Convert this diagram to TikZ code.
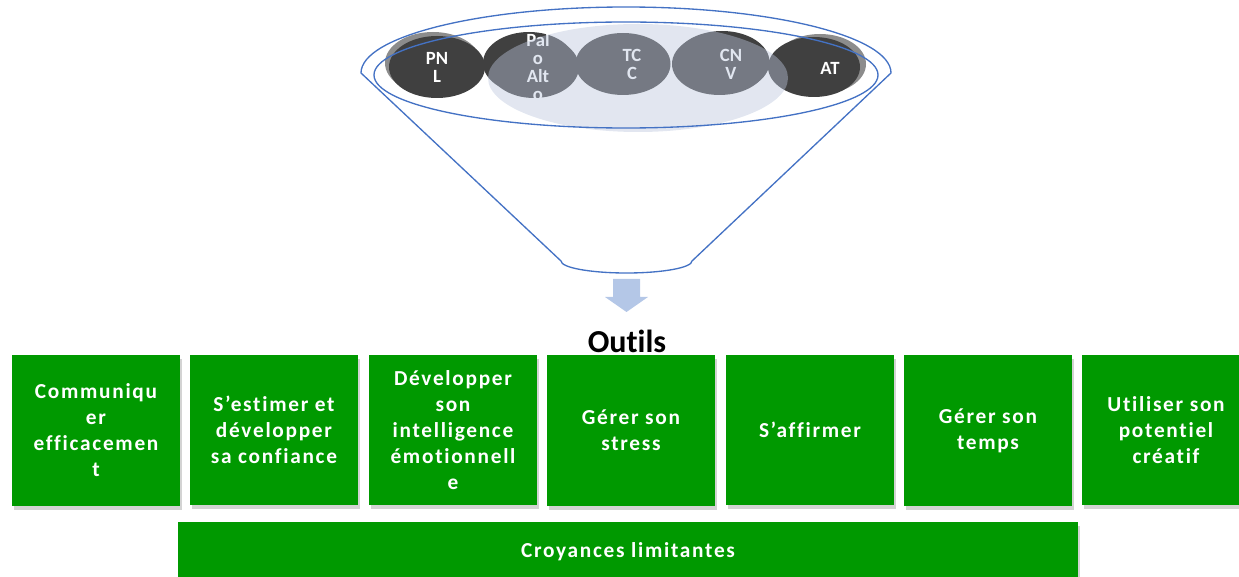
\documentclass[tikz,border=0pt]{standalone}
\usepackage{fontspec}
\setmainfont[Ligatures=NoCommon]{Carlito}
\newfontfamily\spacedfont[LetterSpace=8,Ligatures=NoCommon]{Carlito}
\usetikzlibrary{shadows}

\definecolor{funnelblue}{RGB}{68,114,196}
\definecolor{toolgreen}{RGB}{0,153,0}
\definecolor{darkdisc}{RGB}{64,64,64}
\definecolor{shadegrey}{RGB}{140,140,140}
\definecolor{veilblue}{RGB}{187,198,221}
\definecolor{arrowblue}{RGB}{180,199,231}

\tikzset{every picture/.style={line width=0.75pt}}
\tikzset{
  disclabel/.style={inner sep=0pt, text=white, align=center,
    font=\bfseries\fontsize{14}{13.5}\selectfont},
  toolbox/.style={rectangle, fill=toolgreen, minimum width=126pt, minimum height=113pt,
    inner sep=0pt, text=white, align=center,
    font=\spacedfont\bfseries\fontsize{16}{19.5}\selectfont,
    drop shadow={shadow xshift=1.5pt, shadow yshift=-3pt, opacity=0.35}},
}

\begin{document}
\begin{tikzpicture}[x=0.75pt,y=0.75pt,yscale=-1,xscale=1]
\useasboundingbox (0,0) rectangle (1239,577);

%Shape: Ellipse shadows
\fill [shadegrey] (433,63) ellipse [x radius=48, y radius=31];
\fill [shadegrey] (820,64) ellipse [x radius=46, y radius=30];
%Shape: Ellipse discs
\fill [darkdisc] (437,67) ellipse [x radius=48, y radius=31];
\fill [darkdisc] (529,63) ellipse [x radius=46, y radius=31];
\fill [darkdisc] (534,67) ellipse [x radius=45, y radius=31];
\fill [darkdisc] (623,64) ellipse [x radius=47.5, y radius=31];
\fill [darkdisc] (722,62) ellipse [x radius=47.5, y radius=31];
\fill [darkdisc] (719.5,64) ellipse [x radius=47.5, y radius=31];
\fill [darkdisc] (814,67) ellipse [x radius=46, y radius=30];

% Text Node
\node (pnl) at (437,67) [disclabel] {PN\\L};
% Text Node
\node (paloalto) at (538,67) [disclabel] {Pal\\o\\Alt\\o};
% Text Node
\node (tcc) at (632,64) [disclabel] {TC\\C};
% Text Node
\node (cnv) at (731,64) [disclabel] {CN\\V};
% Text Node
\node (at) at (830,68) [disclabel] {AT};

%Shape: Ellipse veil
\fill [veilblue, fill opacity=0.43] (638,78) ellipse [x radius=150, y radius=54];

%Shape: Funnel
\draw [color=funnelblue, line width=1pt] (361,73) arc [start angle=180, end angle=360, x radius=265, y radius=66]
  -- (692,261) arc [start angle=0, end angle=180, x radius=65.5, y radius=12] -- cycle;
%Shape: Ellipse
\draw [color=funnelblue, line width=1pt] (626,75) ellipse [x radius=252, y radius=53];

%Shape: Down Arrow
\fill [arrowblue] (613,279) -- (640,279) -- (640,297) -- (648,297) -- (626.5,312) -- (605,297) -- (613,297) -- cycle;

% Text Node
\node (outils) at (627,341) [inner sep=0pt, font=\bfseries\fontsize{24}{28}\selectfont] {Outils};

% Tool boxes
\node (communiquer) at (96,430.5) [toolbox] {Communiqu\\er\\efficacemen\\t};
\node (estimer) at (274,430) [toolbox] {S’estimer et\\développer\\sa confiance};
\node (intelligence) at (453,430) [toolbox] {Développer\\son\\intelligence\\émotionnell\\e};
\node (stress) at (631,430.5) [toolbox] {Gérer son\\stress};
\node (affirmer) at (810,430) [toolbox] {S’affirmer};
\node (temps) at (988,430.5) [toolbox] {Gérer son\\temps};
\node (creatif) at (1166,430) [toolbox] {Utiliser son\\potentiel\\créatif};

% Base bar
\node (croyances) at (628,552) [toolbox, minimum width=675pt, minimum height=45pt] {Croyances limitantes};

\end{tikzpicture}
\end{document}
